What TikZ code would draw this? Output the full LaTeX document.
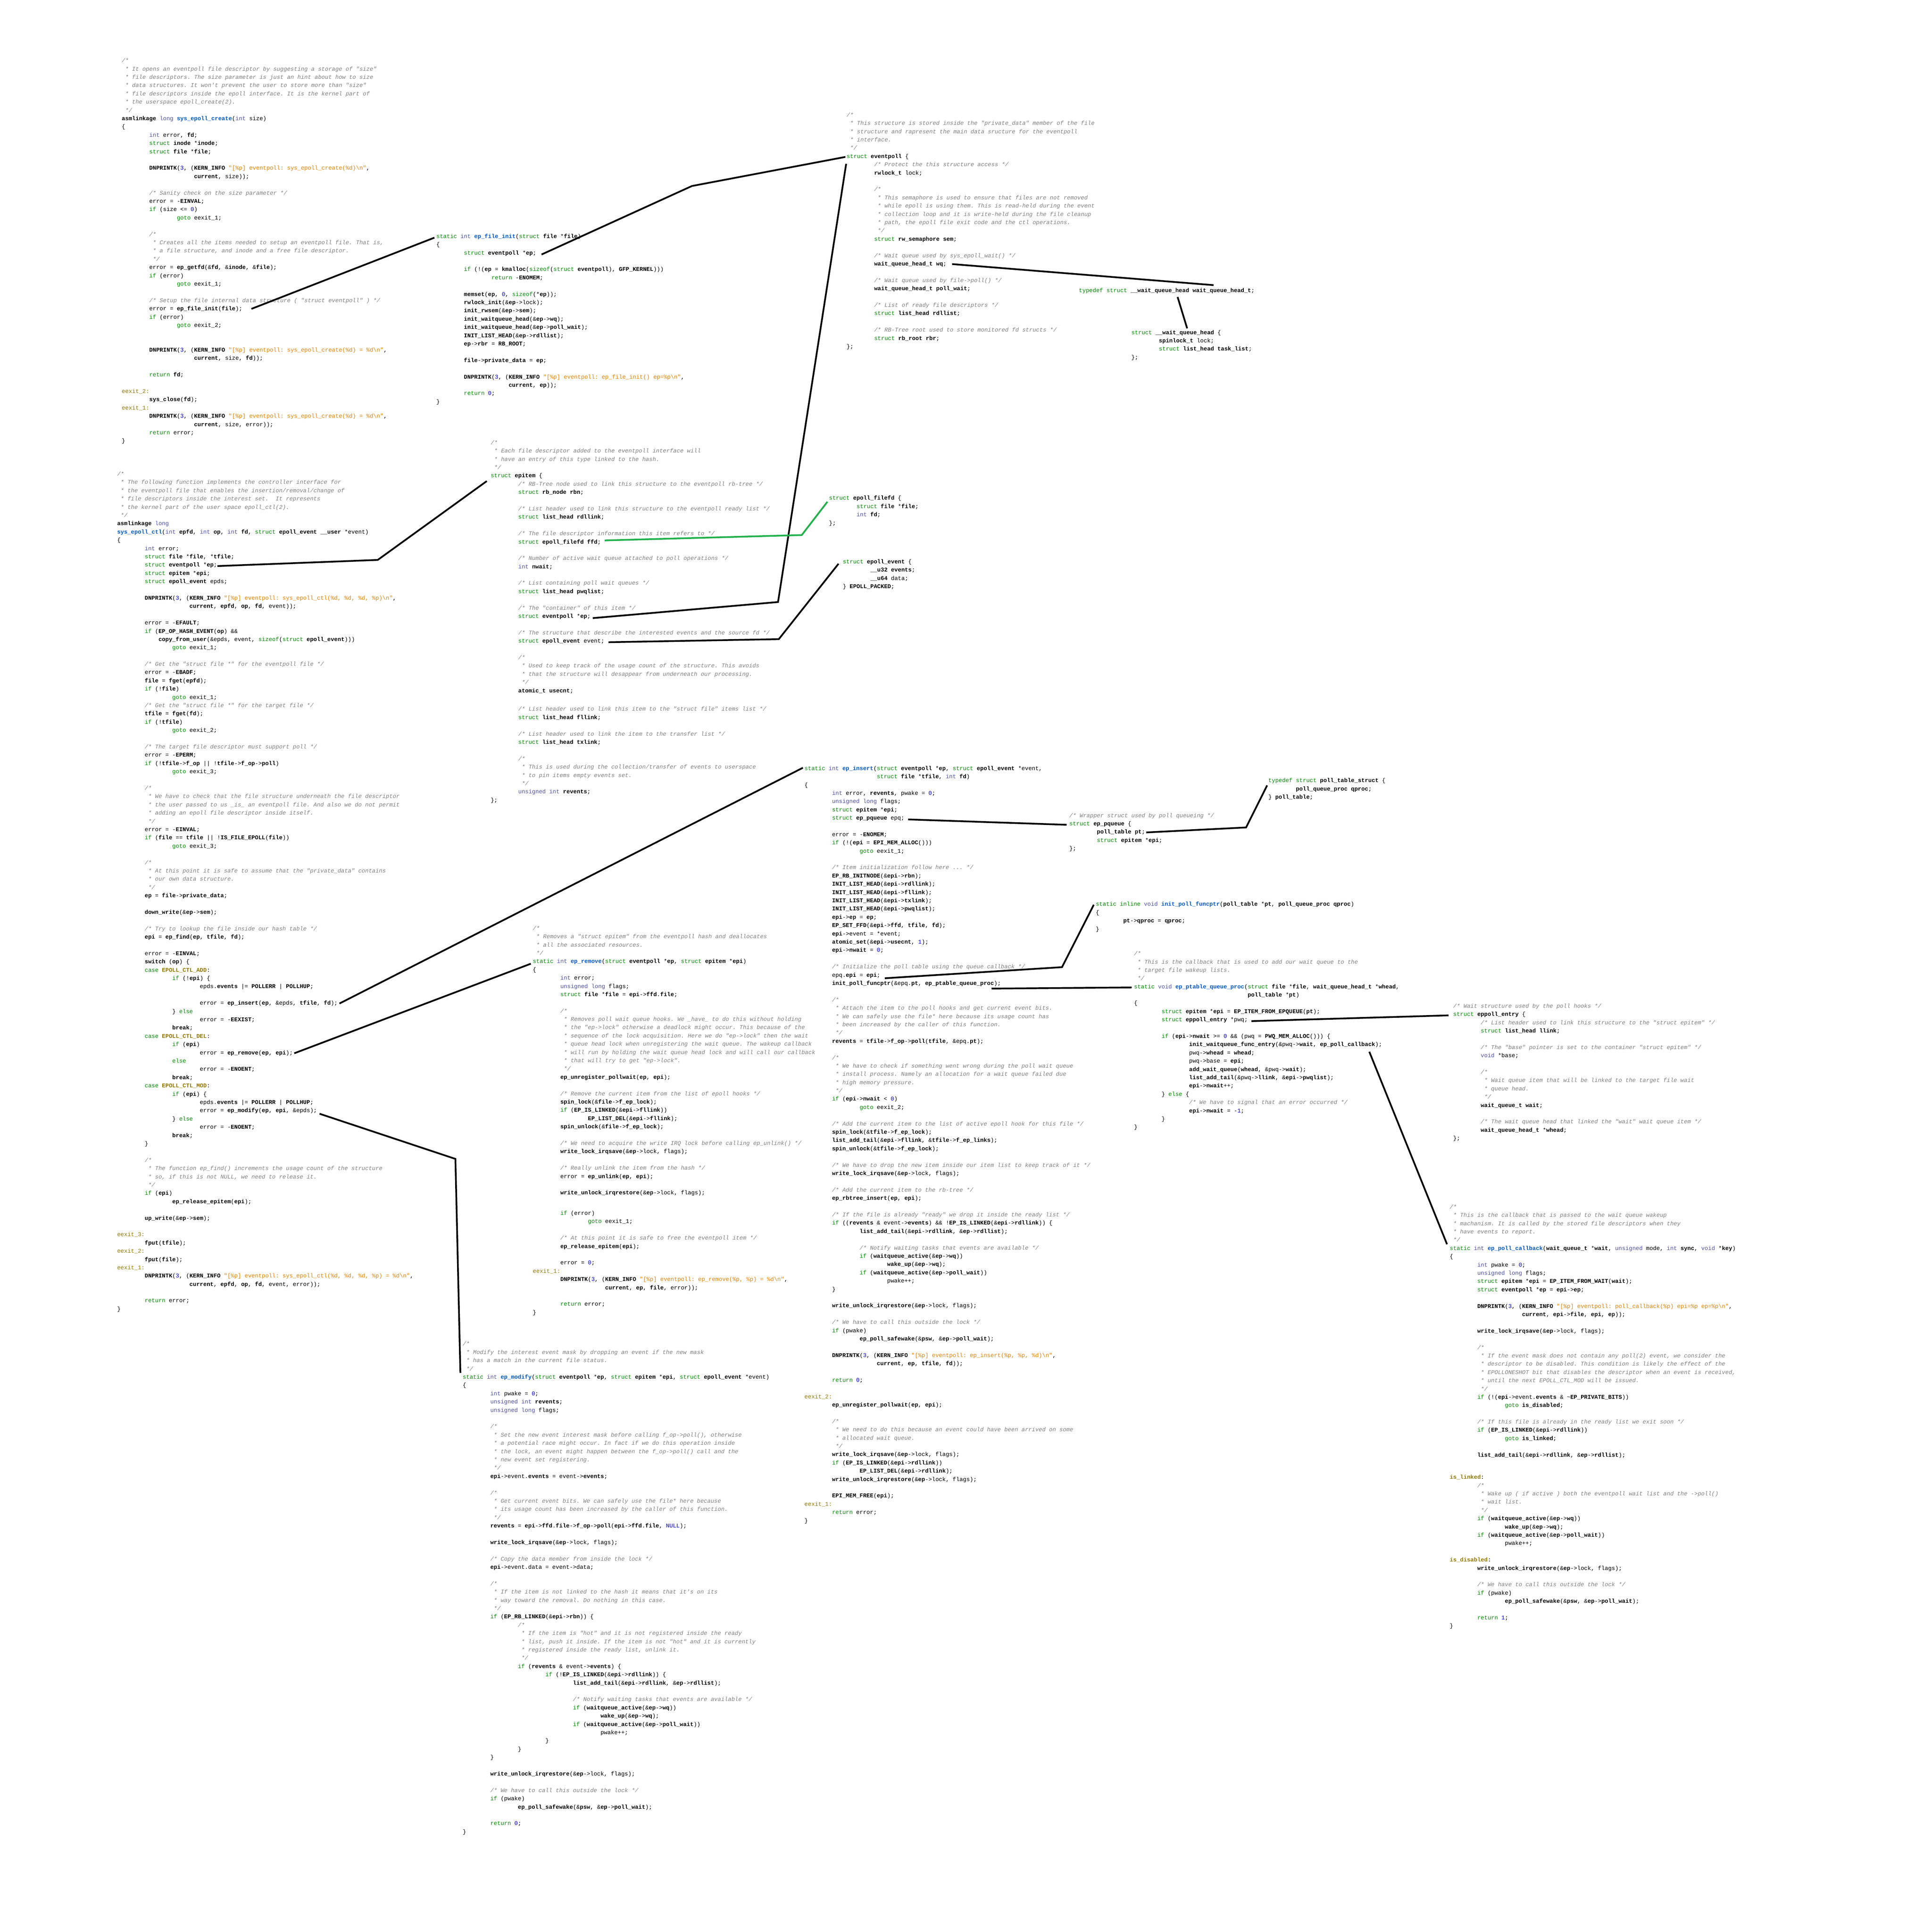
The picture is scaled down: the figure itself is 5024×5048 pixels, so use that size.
\documentclass[tikz,border=0pt]{standalone}
\usepackage{fontspec}
\setmonofont{Liberation Mono}

\definecolor{cmtgray}{RGB}{128,128,128}
\definecolor{kwgreen}{RGB}{0,140,0}
\definecolor{tyblue}{RGB}{80,80,170}
\definecolor{fnblue}{RGB}{0,90,210}
\definecolor{strorange}{RGB}{230,130,0}
\definecolor{numblue}{RGB}{0,0,230}
\definecolor{lblolive}{RGB}{150,120,0}
\definecolor{linkgreen}{RGB}{34,177,76}

\newcommand\ckw[1]{\textcolor{kwgreen}{#1}}
\newcommand\cty[1]{\textcolor{tyblue}{#1}}
\newcommand\cfn[1]{\textcolor{fnblue}{\bfseries #1}}
\newcommand\cbd[1]{\textbf{#1}}
\newcommand\cst[1]{\textcolor{strorange}{#1}}
\newcommand\cnm[1]{\textcolor{numblue}{#1}}
\newcommand\clb[1]{\textcolor{lblolive}{#1}}
\newcommand\ccs[1]{\textcolor{lblolive}{\bfseries #1}}
\newcommand\ccm{\color{cmtgray}\itshape}
\newcommand\cbs{\textbackslash}
\newcommand\ctl{\textasciitilde}

\begingroup\catcode`\^^M=\active%
\gdef\codelines{\def^^M{\par\leavevmode\strut}}%
\endgroup

\begingroup
\catcode`\_=12\catcode`\&=12\obeyspaces\catcode`\^^M=\active\let^^M\relax\catcode`\%=12%
\gdef\codespaces{\def {\hskip0.6em\relax}}
\gdef\blkA{{\ccm/*
 * It opens an eventpoll file descriptor by suggesting a storage of "size"
 * file descriptors. The size parameter is just an hint about how to size
 * data structures. It won't prevent the user to store more than "size"
 * file descriptors inside the epoll interface. It is the kernel part of
 * the userspace epoll_create(2).
 */}
\cbd{asmlinkage} \cty{long} \cfn{sys_epoll_create}(\cty{int} size)
\{
        \cty{int} error, \cbd{fd};
        \ckw{struct} \cbd{inode} *\cbd{inode};
        \ckw{struct} \cbd{file} *\cbd{file};

        \cbd{DNPRINTK}(\cnm{3}, (\cbd{KERN_INFO} \cst{"[%p] eventpoll: sys_epoll_create(%d)\cbs{}n"},
                     \cbd{current}, size));

        {\ccm/* Sanity check on the size parameter */}
        error = -\cbd{EINVAL};
        \ckw{if} (size <= \cnm{0})
                \ckw{goto} eexit_1;

        {\ccm/*
         * Creates all the items needed to setup an eventpoll file. That is,
         * a file structure, and inode and a free file descriptor.
         */}
        error = \cbd{ep_getfd}(&\cbd{fd}, &\cbd{inode}, &\cbd{file});
        \ckw{if} (error)
                \ckw{goto} eexit_1;

        {\ccm/* Setup the file internal data structure ( "struct eventpoll" ) */}
        error = \cbd{ep_file_init}(\cbd{file});
        \ckw{if} (error)
                \ckw{goto} eexit_2;


        \cbd{DNPRINTK}(\cnm{3}, (\cbd{KERN_INFO} \cst{"[%p] eventpoll: sys_epoll_create(%d) = %d\cbs{}n"},
                     \cbd{current}, size, \cbd{fd}));

        \ckw{return} \cbd{fd};

\clb{eexit_2:}
        \cbd{sys_close}(\cbd{fd});
\clb{eexit_1:}
        \cbd{DNPRINTK}(\cnm{3}, (\cbd{KERN_INFO} \cst{"[%p] eventpoll: sys_epoll_create(%d) = %d\cbs{}n"},
                     \cbd{current}, size, error));
        \ckw{return} error;
\}}
\gdef\blkB{\ckw{static} \cty{int} \cfn{ep_file_init}(\ckw{struct} \cbd{file} *\cbd{file})
\{
        \ckw{struct} \cbd{eventpoll} *\cbd{ep};

        \ckw{if} (!(\cbd{ep} = \cbd{kmalloc}(\ckw{sizeof}(\ckw{struct} \cbd{eventpoll}), \cbd{GFP_KERNEL})))
                \ckw{return} -\cbd{ENOMEM};

        \cbd{memset}(\cbd{ep}, \cnm{0}, \ckw{sizeof}(*\cbd{ep}));
        \cbd{rwlock_init}(&\cbd{ep}->lock);
        \cbd{init_rwsem}(&\cbd{ep}->\cbd{sem});
        \cbd{init_waitqueue_head}(&\cbd{ep}->\cbd{wq});
        \cbd{init_waitqueue_head}(&\cbd{ep}->\cbd{poll_wait});
        \cbd{INIT_LIST_HEAD}(&\cbd{ep}->\cbd{rdllist});
        \cbd{ep}->\cbd{rbr} = \cbd{RB_ROOT};

        \cbd{file}->\cbd{private_data} = \cbd{ep};

        \cbd{DNPRINTK}(\cnm{3}, (\cbd{KERN_INFO} \cst{"[%p] eventpoll: ep_file_init() ep=%p\cbs{}n"},
                     \cbd{current}, \cbd{ep}));
        \ckw{return} \cnm{0};
\}}
\gdef\blkC{{\ccm/*
 * This structure is stored inside the "private_data" member of the file
 * structure and rapresent the main data sructure for the eventpoll
 * interface.
 */}
\ckw{struct} \cbd{eventpoll} \{
        {\ccm/* Protect the this structure access */}
        \cbd{rwlock_t} lock;

        {\ccm/*
         * This semaphore is used to ensure that files are not removed
         * while epoll is using them. This is read-held during the event
         * collection loop and it is write-held during the file cleanup
         * path, the epoll file exit code and the ctl operations.
         */}
        \ckw{struct} \cbd{rw_semaphore} \cbd{sem};

        {\ccm/* Wait queue used by sys_epoll_wait() */}
        \cbd{wait_queue_head_t} \cbd{wq};

        {\ccm/* Wait queue used by file->poll() */}
        \cbd{wait_queue_head_t} \cbd{poll_wait};

        {\ccm/* List of ready file descriptors */}
        \ckw{struct} \cbd{list_head} \cbd{rdllist};

        {\ccm/* RB-Tree root used to store monitored fd structs */}
        \ckw{struct} \cbd{rb_root} \cbd{rbr};
\};}
\gdef\blkD{\ckw{typedef} \ckw{struct} \cbd{__wait_queue_head} \cbd{wait_queue_head_t};}
\gdef\blkE{\ckw{struct} \cbd{__wait_queue_head} \{
        \cbd{spinlock_t} lock;
        \ckw{struct} \cbd{list_head} \cbd{task_list};
\};}
\gdef\blkF{{\ccm/*
 * The following function implements the controller interface for
 * the eventpoll file that enables the insertion/removal/change of
 * file descriptors inside the interest set.  It represents
 * the kernel part of the user space epoll_ctl(2).
 */}
\cbd{asmlinkage} \cty{long}
\cfn{sys_epoll_ctl}(\cty{int} \cbd{epfd}, \cty{int} \cbd{op}, \cty{int} \cbd{fd}, \ckw{struct} \cbd{epoll_event} \cbd{__user} *event)
\{
        \cty{int} error;
        \ckw{struct} \cbd{file} *\cbd{file}, *\cbd{tfile};
        \ckw{struct} \cbd{eventpoll} *\cbd{ep};
        \ckw{struct} \cbd{epitem} *\cbd{epi};
        \ckw{struct} \cbd{epoll_event} epds;

        \cbd{DNPRINTK}(\cnm{3}, (\cbd{KERN_INFO} \cst{"[%p] eventpoll: sys_epoll_ctl(%d, %d, %d, %p)\cbs{}n"},
                     \cbd{current}, \cbd{epfd}, \cbd{op}, \cbd{fd}, event));

        error = -\cbd{EFAULT};
        \ckw{if} (\cbd{EP_OP_HASH_EVENT}(\cbd{op}) &&
            \cbd{copy_from_user}(&epds, event, \ckw{sizeof}(\ckw{struct} \cbd{epoll_event})))
                \ckw{goto} eexit_1;

        {\ccm/* Get the "struct file *" for the eventpoll file */}
        error = -\cbd{EBADF};
        \cbd{file} = \cbd{fget}(\cbd{epfd});
        \ckw{if} (!\cbd{file})
                \ckw{goto} eexit_1;
        {\ccm/* Get the "struct file *" for the target file */}
        \cbd{tfile} = \cbd{fget}(\cbd{fd});
        \ckw{if} (!\cbd{tfile})
                \ckw{goto} eexit_2;

        {\ccm/* The target file descriptor must support poll */}
        error = -\cbd{EPERM};
        \ckw{if} (!\cbd{tfile}->\cbd{f_op} || !\cbd{tfile}->\cbd{f_op}->\cbd{poll})
                \ckw{goto} eexit_3;

        {\ccm/*
         * We have to check that the file structure underneath the file descriptor
         * the user passed to us _is_ an eventpoll file. And also we do not permit
         * adding an epoll file descriptor inside itself.
         */}
        error = -\cbd{EINVAL};
        \ckw{if} (\cbd{file} == \cbd{tfile} || !\cbd{IS_FILE_EPOLL}(\cbd{file}))
                \ckw{goto} eexit_3;

        {\ccm/*
         * At this point it is safe to assume that the "private_data" contains
         * our own data structure.
         */}
        \cbd{ep} = \cbd{file}->\cbd{private_data};

        \cbd{down_write}(&\cbd{ep}->\cbd{sem});

        {\ccm/* Try to lookup the file inside our hash table */}
        \cbd{epi} = \cbd{ep_find}(\cbd{ep}, \cbd{tfile}, \cbd{fd});

        error = -\cbd{EINVAL};
        \cbd{switch} (\cbd{op}) \{
        \ckw{case} \ccs{EPOLL_CTL_ADD}:
                \ckw{if} (!\cbd{epi}) \{
                        epds.\cbd{events} |= \cbd{POLLERR} | \cbd{POLLHUP};

                        error = \cbd{ep_insert}(\cbd{ep}, &epds, \cbd{tfile}, \cbd{fd});
                \} \ckw{else}
                        error = -\cbd{EEXIST};
                \cbd{break};
        \ckw{case} \ccs{EPOLL_CTL_DEL}:
                \ckw{if} (\cbd{epi})
                        error = \cbd{ep_remove}(\cbd{ep}, \cbd{epi});
                \ckw{else}
                        error = -\cbd{ENOENT};
                \cbd{break};
        \ckw{case} \ccs{EPOLL_CTL_MOD}:
                \ckw{if} (\cbd{epi}) \{
                        epds.\cbd{events} |= \cbd{POLLERR} | \cbd{POLLHUP};
                        error = \cbd{ep_modify}(\cbd{ep}, \cbd{epi}, &epds);
                \} \ckw{else}
                        error = -\cbd{ENOENT};
                \cbd{break};
        \}

        {\ccm/*
         * The function ep_find() increments the usage count of the structure
         * so, if this is not NULL, we need to release it.
         */}
        \ckw{if} (\cbd{epi})
                \cbd{ep_release_epitem}(\cbd{epi});

        \cbd{up_write}(&\cbd{ep}->\cbd{sem});

\clb{eexit_3:}
        \cbd{fput}(\cbd{tfile});
\clb{eexit_2:}
        \cbd{fput}(\cbd{file});
\clb{eexit_1:}
        \cbd{DNPRINTK}(\cnm{3}, (\cbd{KERN_INFO} \cst{"[%p] eventpoll: sys_epoll_ctl(%d, %d, %d, %p) = %d\cbs{}n"},
                     \cbd{current}, \cbd{epfd}, \cbd{op}, \cbd{fd}, event, error));

        \ckw{return} error;
\}}
\gdef\blkG{{\ccm/*
 * Each file descriptor added to the eventpoll interface will
 * have an entry of this type linked to the hash.
 */}
\ckw{struct} \cbd{epitem} \{
        {\ccm/* RB-Tree node used to link this structure to the eventpoll rb-tree */}
        \ckw{struct} \cbd{rb_node} \cbd{rbn};

        {\ccm/* List header used to link this structure to the eventpoll ready list */}
        \ckw{struct} \cbd{list_head} \cbd{rdllink};

        {\ccm/* The file descriptor information this item refers to */}
        \ckw{struct} \cbd{epoll_filefd} \cbd{ffd};

        {\ccm/* Number of active wait queue attached to poll operations */}
        \cty{int} \cbd{nwait};

        {\ccm/* List containing poll wait queues */}
        \ckw{struct} \cbd{list_head} \cbd{pwqlist};

        {\ccm/* The "container" of this item */}
        \ckw{struct} \cbd{eventpoll} *\cbd{ep};

        {\ccm/* The structure that describe the interested events and the source fd */}
        \ckw{struct} \cbd{epoll_event} event;

        {\ccm/*
         * Used to keep track of the usage count of the structure. This avoids
         * that the structure will desappear from underneath our processing.
         */}
        \cbd{atomic_t} \cbd{usecnt};
\vspace{5pt}
        {\ccm/* List header used to link this item to the "struct file" items list */}
        \ckw{struct} \cbd{list_head} \cbd{fllink};

        {\ccm/* List header used to link the item to the transfer list */}
        \ckw{struct} \cbd{list_head} \cbd{txlink};

        {\ccm/*
         * This is used during the collection/transfer of events to userspace
         * to pin items empty events set.
         */}
        \cty{unsigned} \cty{int} \cbd{revents};
\};}
\gdef\blkH{\ckw{struct} \cbd{epoll_filefd} \{
        \ckw{struct} \cbd{file} *\cbd{file};
        \cty{int} \cbd{fd};
\};}
\gdef\blkI{\ckw{struct} \cbd{epoll_event} \{
        \cbd{__u32} \cbd{events};
        \cbd{__u64} data;
\} \cbd{EPOLL_PACKED};}
\gdef\blkJ{\ckw{static} \cty{int} \cfn{ep_insert}(\ckw{struct} \cbd{eventpoll} *\cbd{ep}, \ckw{struct} \cbd{epoll_event} *event,
                     \ckw{struct} \cbd{file} *\cbd{tfile}, \cty{int} \cbd{fd})
\{
        \cty{int} error, \cbd{revents}, pwake = \cnm{0};
        \cty{unsigned} \cty{long} flags;
        \ckw{struct} \cbd{epitem} *\cbd{epi};
        \ckw{struct} \cbd{ep_pqueue} epq;

        error = -\cbd{ENOMEM};
        \ckw{if} (!(\cbd{epi} = \cbd{EPI_MEM_ALLOC}()))
                \ckw{goto} eexit_1;

        {\ccm/* Item initialization follow here ... */}
        \cbd{EP_RB_INITNODE}(&\cbd{epi}->\cbd{rbn});
        \cbd{INIT_LIST_HEAD}(&\cbd{epi}->\cbd{rdllink});
        \cbd{INIT_LIST_HEAD}(&\cbd{epi}->\cbd{fllink});
        \cbd{INIT_LIST_HEAD}(&\cbd{epi}->\cbd{txlink});
        \cbd{INIT_LIST_HEAD}(&\cbd{epi}->\cbd{pwqlist});
        \cbd{epi}->\cbd{ep} = \cbd{ep};
        \cbd{EP_SET_FFD}(&\cbd{epi}->\cbd{ffd}, \cbd{tfile}, \cbd{fd});
        \cbd{epi}->event = *event;
        \cbd{atomic_set}(&\cbd{epi}->\cbd{usecnt}, \cnm{1});
        \cbd{epi}->\cbd{nwait} = \cnm{0};

        {\ccm/* Initialize the poll table using the queue callback */}
        epq.\cbd{epi} = \cbd{epi};
        \cbd{init_poll_funcptr}(&epq.\cbd{pt}, \cbd{ep_ptable_queue_proc});

        {\ccm/*
         * Attach the item to the poll hooks and get current event bits.
         * We can safely use the file* here because its usage count has
         * been increased by the caller of this function.
         */}
        \cbd{revents} = \cbd{tfile}->\cbd{f_op}->\cbd{poll}(\cbd{tfile}, &epq.\cbd{pt});

        {\ccm/*
         * We have to check if something went wrong during the poll wait queue
         * install process. Namely an allocation for a wait queue failed due
         * high memory pressure.
         */}
        \ckw{if} (\cbd{epi}->\cbd{nwait} < \cnm{0})
                \ckw{goto} eexit_2;

        {\ccm/* Add the current item to the list of active epoll hook for this file */}
        \cbd{spin_lock}(&\cbd{tfile}->\cbd{f_ep_lock});
        \cbd{list_add_tail}(&\cbd{epi}->\cbd{fllink}, &\cbd{tfile}->\cbd{f_ep_links});
        \cbd{spin_unlock}(&\cbd{tfile}->\cbd{f_ep_lock});

        {\ccm/* We have to drop the new item inside our item list to keep track of it */}
        \cbd{write_lock_irqsave}(&\cbd{ep}->lock, flags);

        {\ccm/* Add the current item to the rb-tree */}
        \cbd{ep_rbtree_insert}(\cbd{ep}, \cbd{epi});

        {\ccm/* If the file is already "ready" we drop it inside the ready list */}
        \ckw{if} ((\cbd{revents} & event->\cbd{events}) && !\cbd{EP_IS_LINKED}(&\cbd{epi}->\cbd{rdllink})) \{
                \cbd{list_add_tail}(&\cbd{epi}->\cbd{rdllink}, &\cbd{ep}->\cbd{rdllist});

                {\ccm/* Notify waiting tasks that events are available */}
                \ckw{if} (\cbd{waitqueue_active}(&\cbd{ep}->\cbd{wq}))
                        \cbd{wake_up}(&\cbd{ep}->\cbd{wq});
                \ckw{if} (\cbd{waitqueue_active}(&\cbd{ep}->\cbd{poll_wait}))
                        pwake++;
        \}

        \cbd{write_unlock_irqrestore}(&\cbd{ep}->lock, flags);

        {\ccm/* We have to call this outside the lock */}
        \ckw{if} (pwake)
                \cbd{ep_poll_safewake}(&\cbd{psw}, &\cbd{ep}->\cbd{poll_wait});

        \cbd{DNPRINTK}(\cnm{3}, (\cbd{KERN_INFO} \cst{"[%p] eventpoll: ep_insert(%p, %p, %d)\cbs{}n"},
                     \cbd{current}, \cbd{ep}, \cbd{tfile}, \cbd{fd}));

        \ckw{return} \cnm{0};

\clb{eexit_2:}
        \cbd{ep_unregister_pollwait}(\cbd{ep}, \cbd{epi});

        {\ccm/*
         * We need to do this because an event could have been arrived on some
         * allocated wait queue.
         */}
        \cbd{write_lock_irqsave}(&\cbd{ep}->lock, flags);
        \ckw{if} (\cbd{EP_IS_LINKED}(&\cbd{epi}->\cbd{rdllink}))
                \cbd{EP_LIST_DEL}(&\cbd{epi}->\cbd{rdllink});
        \cbd{write_unlock_irqrestore}(&\cbd{ep}->lock, flags);

        \cbd{EPI_MEM_FREE}(\cbd{epi});
\clb{eexit_1:}
        \ckw{return} error;
\}}
\gdef\blkK{{\ccm/* Wrapper struct used by poll queueing */}
\ckw{struct} \cbd{ep_pqueue} \{
        \cbd{poll_table} \cbd{pt};
        \ckw{struct} \cbd{epitem} *\cbd{epi};
\};}
\gdef\blkL{\ckw{typedef} \ckw{struct} \cbd{poll_table_struct} \{
        \cbd{poll_queue_proc} \cbd{qproc};
\} \cbd{poll_table};}
\gdef\blkM{\ckw{static} \ckw{inline} \cty{void} \cfn{init_poll_funcptr}(\cbd{poll_table} *\cbd{pt}, \cbd{poll_queue_proc} \cbd{qproc})
\{
        \cbd{pt}->\cbd{qproc} = \cbd{qproc};
\}}
\gdef\blkN{{\ccm/*
 * This is the callback that is used to add our wait queue to the
 * target file wakeup lists.
 */}
\ckw{static} \cty{void} \cfn{ep_ptable_queue_proc}(\ckw{struct} \cbd{file} *\cbd{file}, \cbd{wait_queue_head_t} *\cbd{whead},
                                 \cbd{poll_table} *\cbd{pt})
\{
        \ckw{struct} \cbd{epitem} *\cbd{epi} = \cbd{EP_ITEM_FROM_EPQUEUE}(\cbd{pt});
        \ckw{struct} \cbd{eppoll_entry} *pwq;

        \ckw{if} (\cbd{epi}->\cbd{nwait} >= \cnm{0} && (pwq = \cbd{PWQ_MEM_ALLOC}())) \{
                \cbd{init_waitqueue_func_entry}(&pwq->\cbd{wait}, \cbd{ep_poll_callback});
                pwq->\cbd{whead} = \cbd{whead};
                pwq->base = \cbd{epi};
                \cbd{add_wait_queue}(\cbd{whead}, &pwq->\cbd{wait});
                \cbd{list_add_tail}(&pwq->\cbd{llink}, &\cbd{epi}->\cbd{pwqlist});
                \cbd{epi}->\cbd{nwait}++;
        \} \ckw{else} \{
                {\ccm/* We have to signal that an error occurred */}
                \cbd{epi}->\cbd{nwait} = -\cnm{1};
        \}
\}}
\gdef\blkO{{\ccm/* Wait structure used by the poll hooks */}
\ckw{struct} \cbd{eppoll_entry} \{
        {\ccm/* List header used to link this structure to the "struct epitem" */}
        \ckw{struct} \cbd{list_head} \cbd{llink};

        {\ccm/* The "base" pointer is set to the container "struct epitem" */}
        \cty{void} *base;

        {\ccm/*
         * Wait queue item that will be linked to the target file wait
         * queue head.
         */}
        \cbd{wait_queue_t} \cbd{wait};

        {\ccm/* The wait queue head that linked the "wait" wait queue item */}
        \cbd{wait_queue_head_t} *\cbd{whead};
\};}
\gdef\blkP{{\ccm/*
 * This is the callback that is passed to the wait queue wakeup
 * machanism. It is called by the stored file descriptors when they
 * have events to report.
 */}
\ckw{static} \cty{int} \cfn{ep_poll_callback}(\cbd{wait_queue_t} *\cbd{wait}, \cty{unsigned} mode, \cty{int} \cbd{sync}, \cty{void} *\cbd{key})
\{
        \cty{int} pwake = \cnm{0};
        \cty{unsigned} \cty{long} flags;
        \ckw{struct} \cbd{epitem} *\cbd{epi} = \cbd{EP_ITEM_FROM_WAIT}(\cbd{wait});
        \ckw{struct} \cbd{eventpoll} *\cbd{ep} = \cbd{epi}->\cbd{ep};

        \cbd{DNPRINTK}(\cnm{3}, (\cbd{KERN_INFO} \cst{"[%p] eventpoll: poll_callback(%p) epi=%p ep=%p\cbs{}n"},
                     \cbd{current}, \cbd{epi}->\cbd{file}, \cbd{epi}, \cbd{ep}));

        \cbd{write_lock_irqsave}(&\cbd{ep}->lock, flags);

        {\ccm/*
         * If the event mask does not contain any poll(2) event, we consider the
         * descriptor to be disabled. This condition is likely the effect of the
         * EPOLLONESHOT bit that disables the descriptor when an event is received,
         * until the next EPOLL_CTL_MOD will be issued.
         */}
        \ckw{if} (!(\cbd{epi}->event.\cbd{events} & \ctl{}\cbd{EP_PRIVATE_BITS}))
                \ckw{goto} \cbd{is_disabled};

        {\ccm/* If this file is already in the ready list we exit soon */}
        \ckw{if} (\cbd{EP_IS_LINKED}(&\cbd{epi}->\cbd{rdllink}))
                \ckw{goto} \cbd{is_linked};

        \cbd{list_add_tail}(&\cbd{epi}->\cbd{rdllink}, &\cbd{ep}->\cbd{rdllist});
\vspace{15pt}
\ccs{is_linked}:
        {\ccm/*
         * Wake up ( if active ) both the eventpoll wait list and the ->poll()
         * wait list.
         */}
        \ckw{if} (\cbd{waitqueue_active}(&\cbd{ep}->\cbd{wq}))
                \cbd{wake_up}(&\cbd{ep}->\cbd{wq});
        \ckw{if} (\cbd{waitqueue_active}(&\cbd{ep}->\cbd{poll_wait}))
                pwake++;

\ccs{is_disabled}:
        \cbd{write_unlock_irqrestore}(&\cbd{ep}->lock, flags);

        {\ccm/* We have to call this outside the lock */}
        \ckw{if} (pwake)
                \cbd{ep_poll_safewake}(&\cbd{psw}, &\cbd{ep}->\cbd{poll_wait});

        \ckw{return} \cnm{1};
\}}
\gdef\blkQ{{\ccm/*
 * Removes a "struct epitem" from the eventpoll hash and deallocates
 * all the associated resources.
 */}
\ckw{static} \cty{int} \cfn{ep_remove}(\ckw{struct} \cbd{eventpoll} *\cbd{ep}, \ckw{struct} \cbd{epitem} *\cbd{epi})
\{
        \cty{int} error;
        \cty{unsigned} \cty{long} flags;
        \ckw{struct} \cbd{file} *\cbd{file} = \cbd{epi}->\cbd{ffd}.\cbd{file};

        {\ccm/*
         * Removes poll wait queue hooks. We _have_ to do this without holding
         * the "ep->lock" otherwise a deadlock might occur. This because of the
         * sequence of the lock acquisition. Here we do "ep->lock" then the wait
         * queue head lock when unregistering the wait queue. The wakeup callback
         * will run by holding the wait queue head lock and will call our callback
         * that will try to get "ep->lock".
         */}
        \cbd{ep_unregister_pollwait}(\cbd{ep}, \cbd{epi});

        {\ccm/* Remove the current item from the list of epoll hooks */}
        \cbd{spin_lock}(&\cbd{file}->\cbd{f_ep_lock});
        \ckw{if} (\cbd{EP_IS_LINKED}(&\cbd{epi}->\cbd{fllink}))
                \cbd{EP_LIST_DEL}(&\cbd{epi}->\cbd{fllink});
        \cbd{spin_unlock}(&\cbd{file}->\cbd{f_ep_lock});

        {\ccm/* We need to acquire the write IRQ lock before calling ep_unlink() */}
        \cbd{write_lock_irqsave}(&\cbd{ep}->lock, flags);

        {\ccm/* Really unlink the item from the hash */}
        error = \cbd{ep_unlink}(\cbd{ep}, \cbd{epi});

        \cbd{write_unlock_irqrestore}(&\cbd{ep}->lock, flags);
\vspace{10pt}
        \ckw{if} (error)
                \ckw{goto} eexit_1;

        {\ccm/* At this point it is safe to free the eventpoll item */}
        \cbd{ep_release_epitem}(\cbd{epi});

        error = \cnm{0};
\clb{eexit_1:}
        \cbd{DNPRINTK}(\cnm{3}, (\cbd{KERN_INFO} \cst{"[%p] eventpoll: ep_remove(%p, %p) = %d\cbs{}n"},
                     \cbd{current}, \cbd{ep}, \cbd{file}, error));

        \ckw{return} error;
\}}
\gdef\blkR{{\ccm/*
 * Modify the interest event mask by dropping an event if the new mask
 * has a match in the current file status.
 */}
\ckw{static} \cty{int} \cfn{ep_modify}(\ckw{struct} \cbd{eventpoll} *\cbd{ep}, \ckw{struct} \cbd{epitem} *\cbd{epi}, \ckw{struct} \cbd{epoll_event} *event)
\{
        \cty{int} pwake = \cnm{0};
        \cty{unsigned} \cty{int} \cbd{revents};
        \cty{unsigned} \cty{long} flags;

        {\ccm/*
         * Set the new event interest mask before calling f_op->poll(), otherwise
         * a potential race might occur. In fact if we do this operation inside
         * the lock, an event might happen between the f_op->poll() call and the
         * new event set registering.
         */}
        \cbd{epi}->event.\cbd{events} = event->\cbd{events};

        {\ccm/*
         * Get current event bits. We can safely use the file* here because
         * its usage count has been increased by the caller of this function.
         */}
        \cbd{revents} = \cbd{epi}->\cbd{ffd}.\cbd{file}->\cbd{f_op}->\cbd{poll}(\cbd{epi}->\cbd{ffd}.\cbd{file}, \cnm{NULL});

        \cbd{write_lock_irqsave}(&\cbd{ep}->lock, flags);

        {\ccm/* Copy the data member from inside the lock */}
        \cbd{epi}->event.data = event->data;

        {\ccm/*
         * If the item is not linked to the hash it means that it's on its
         * way toward the removal. Do nothing in this case.
         */}
        \ckw{if} (\cbd{EP_RB_LINKED}(&\cbd{epi}->\cbd{rbn})) \{
                {\ccm/*
                 * If the item is "hot" and it is not registered inside the ready
                 * list, push it inside. If the item is not "hot" and it is currently
                 * registered inside the ready list, unlink it.
                 */}
                \ckw{if} (\cbd{revents} & event->\cbd{events}) \{
                        \ckw{if} (!\cbd{EP_IS_LINKED}(&\cbd{epi}->\cbd{rdllink})) \{
                                \cbd{list_add_tail}(&\cbd{epi}->\cbd{rdllink}, &\cbd{ep}->\cbd{rdllist});

                                {\ccm/* Notify waiting tasks that events are available */}
                                \ckw{if} (\cbd{waitqueue_active}(&\cbd{ep}->\cbd{wq}))
                                        \cbd{wake_up}(&\cbd{ep}->\cbd{wq});
                                \ckw{if} (\cbd{waitqueue_active}(&\cbd{ep}->\cbd{poll_wait}))
                                        pwake++;
                        \}
                \}
        \}

        \cbd{write_unlock_irqrestore}(&\cbd{ep}->lock, flags);

        {\ccm/* We have to call this outside the lock */}
        \ckw{if} (pwake)
                \cbd{ep_poll_safewake}(&\cbd{psw}, &\cbd{ep}->\cbd{poll_wait});

        \ckw{return} \cnm{0};
\}}
\endgroup

\begin{document}
\begin{tikzpicture}[x=1pt, y=-1pt,
  codeblock/.style={anchor=north west, inner sep=0pt, text width=1300pt, align=flush left,
    font=\ttfamily\fontsize{15pt}{21.6pt}\selectfont\frenchspacing\codelines\codespaces},
  link/.style={black, line width=4.5pt},
  greenlink/.style={linkgreen, line width=4.5pt}]
\fill[white, use as bounding box] (0,0) rectangle (5024,5048);

% code blocks
\node[codeblock] (epollCreate) at (318,148) {\strut\blkA};
\node[codeblock] (fileInit) at (1140,607) {\strut\blkB};
\node[codeblock] (eventpollStruct) at (2212,290) {\strut\blkC};
\node[codeblock] (wqTypedef) at (2819,748) {\strut\blkD};
\node[codeblock] (wqHeadStruct) at (2956,858) {\strut\blkE};
\node[codeblock] (epollCtl) at (306,1228) {\strut\blkF};
\node[codeblock] (epitemStruct) at (1282,1146) {\strut\blkG};
\node[codeblock] (filefdStruct) at (2166,1291) {\strut\blkH};
\node[codeblock] (epollEventStruct) at (2202,1457) {\strut\blkI};
\node[codeblock] (epInsert) at (2102,1997) {\strut\blkJ};
\node[codeblock] (pqueueStruct) at (2794,2120) {\strut\blkK};
\node[codeblock] (pollTable) at (3314,2029) {\strut\blkL};
\node[codeblock] (funcptrFn) at (2863,2352) {\strut\blkM};
\node[codeblock] (queueProcFn) at (2963,2481) {\strut\blkN};
\node[codeblock] (eppollEntry) at (3797,2618) {\strut\blkO};
\node[codeblock] (pollCallback) at (3788,3143) {\strut\blkP};
\node[codeblock] (epRemove) at (1392,2415) {\strut\blkQ};
\node[codeblock] (epModify) at (1209,3501) {\strut\blkR};

% connector end points
\coordinate (createCall) at (657,807);
\coordinate (fileInitHead) at (1135,621);
\coordinate (fileInitEp) at (1415,665);
\coordinate (fileInitBend) at (1808,486);
\coordinate (eventpollHead) at (2209,410);
\coordinate (ctlEp) at (568,1479);
\coordinate (ctlEpBend) at (987,1463);
\coordinate (epitemHead) at (1272,1257);
\coordinate (epitemEp) at (1549,1615);
\coordinate (epitemEpBend) at (2033,1573);
\coordinate (eventpollHeadB) at (2211,428);
\coordinate (epitemFfd) at (1580,1412);
\coordinate (epitemFfdBend) at (2095,1398);
\coordinate (filefdHead) at (2162,1311);
\coordinate (epitemEvent) at (1590,1678);
\coordinate (epitemEventBend) at (2035,1670);
\coordinate (epollEventHead) at (2191,1473);
\coordinate (ctlInsert) at (887,2622);
\coordinate (insertHead) at (2098,2006);
\coordinate (ctlRemove) at (769,2752);
\coordinate (removeHead) at (1387,2518);
\coordinate (ctlModify) at (835,2910);
\coordinate (ctlModifyBend) at (1190,3028);
\coordinate (modifyHead) at (1203,3587);
\coordinate (insertEpq) at (2373,2141);
\coordinate (pqueueHead) at (2787,2155);
\coordinate (pqueuePt) at (2995,2175);
\coordinate (pqueuePtBend) at (3256,2162);
\coordinate (pollTableHead) at (3311,2052);
\coordinate (insertEpi) at (2312,2556);
\coordinate (insertEpiBend) at (2775,2527);
\coordinate (funcptrHead) at (2858,2364);
\coordinate (insertFuncptr) at (2591,2583);
\coordinate (queueProcHead) at (2957,2580);
\coordinate (queueProcPwq) at (3270,2668);
\coordinate (entryHead) at (3785,2653);
\coordinate (queueProcCb) at (3578,2748);
\coordinate (callbackHead) at (3781,3251);
\coordinate (eventpollWq) at (2488,690);
\coordinate (wqTypedefEnd) at (3171,745);
\coordinate (wqTypedefName) at (3077,776);
\coordinate (wqHeadEnd) at (3102,858);

% connectors
\draw[link] (createCall) -- (fileInitHead);
\draw[link] (fileInitEp) -- (fileInitBend) -- (eventpollHead);
\draw[link] (ctlEp) -- (ctlEpBend) -- (epitemHead);
\draw[link] (epitemEp) -- (epitemEpBend) -- (eventpollHeadB);
\draw[greenlink] (epitemFfd) -- (epitemFfdBend) -- (filefdHead);
\draw[link] (epitemEvent) -- (epitemEventBend) -- (epollEventHead);
\draw[link] (ctlInsert) -- (insertHead);
\draw[link] (ctlRemove) -- (removeHead);
\draw[link] (ctlModify) -- (ctlModifyBend) -- (modifyHead);
\draw[link] (insertEpq) -- (pqueueHead);
\draw[link] (pqueuePt) -- (pqueuePtBend) -- (pollTableHead);
\draw[link] (insertEpi) -- (insertEpiBend) -- (funcptrHead);
\draw[link] (insertFuncptr) -- (queueProcHead);
\draw[link] (queueProcPwq) -- (entryHead);
\draw[link] (queueProcCb) -- (callbackHead);
\draw[link] (eventpollWq) -- (wqTypedefEnd);
\draw[link] (wqTypedefName) -- (wqHeadEnd);
\end{tikzpicture}
\end{document}
